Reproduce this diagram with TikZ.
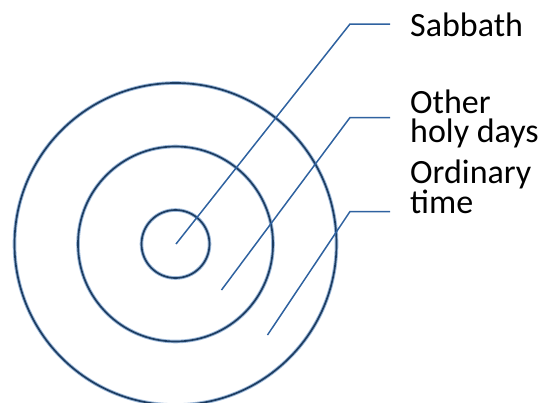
\documentclass[tikz,border=0pt]{standalone}
\usepackage{fontspec}
\setmainfont{Carlito}
\definecolor{ringdark}{HTML}{1D3D62}
\definecolor{ringlight}{HTML}{9DB9DA}
\definecolor{leadblue}{HTML}{2F62A0}
\tikzset{
    ring/.style={draw=ringdark, line width=1.7pt,
        preaction={draw=ringlight, line width=3.6pt}},
    leader/.style={draw=leadblue, line width=1.5pt},
    label/.style={anchor=base west, inner xsep=20pt, inner ysep=0pt,
        align=left, font=\fontsize{34}{28.5}\selectfont}
}

\begin{document}
\begin{tikzpicture}[x=1pt, y=-1pt]
        \useasboundingbox (0,0) rectangle (544,402);

        % Rings
        \coordinate (c) at (175.5,244);
        \draw[ring] (c) circle (161);
        \draw[ring] (c) circle (97.5);
        \draw[ring] (c) circle (34);

        % Labels (base = last line)
        \node[label] (sab) at (390,36) {Sabbath};
        \node[label] (hol) at (390,142) {Other\\holy days};
        \node[label] (ord) at (390,213) {Ordinary\\time};

        % Leaders
        \coordinate (s0) at (176,244);
        \coordinate (s1) at (350,24);
        \coordinate (h0) at (221.5,290);
        \coordinate (h1) at (350,117.5);
        \coordinate (o0) at (267.5,335);
        \coordinate (o1) at (350,211.5);
        \draw[leader] (s0) -- (s1) -- (s1 -| sab.west);
        \draw[leader] (h0) -- (h1) -- (h1 -| hol.west);
        \draw[leader] (o0) -- (o1) -- (o1 -| ord.west);
    \end{tikzpicture}
\end{document}
